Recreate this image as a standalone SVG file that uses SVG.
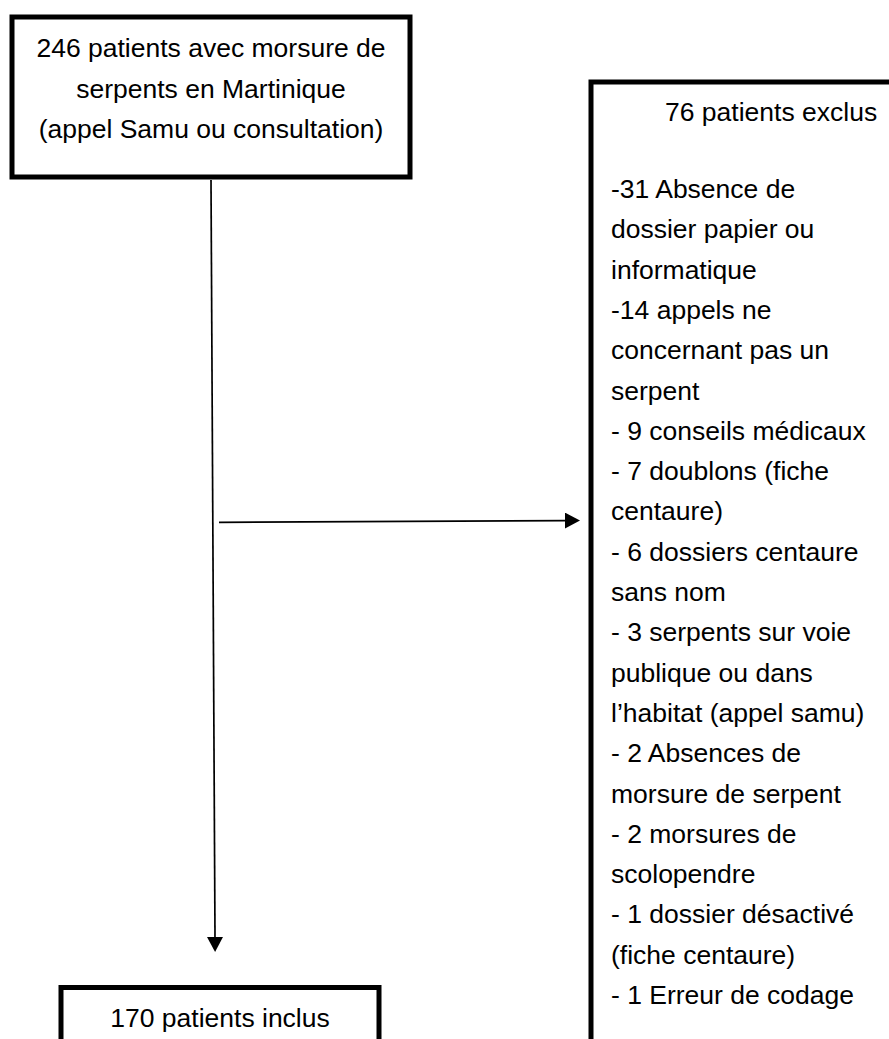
<svg xmlns="http://www.w3.org/2000/svg" width="889" height="1039" viewBox="0 0 889 1039">
  <style>
    .box { fill: #ffffff; stroke: #000000; stroke-width: 5; }
    .txt { font-family: "Liberation Sans", Arial, sans-serif; font-size: 26.5px; fill: #000000; }
    .mid { text-anchor: middle; }
    .conn { stroke: #000000; stroke-width: 1.7; fill: none; }
  </style>
  <defs>
    <marker id="arrow" markerUnits="userSpaceOnUse" markerWidth="16" markerHeight="16" refX="0" refY="8" orient="auto">
      <path d="M0,0 L15,8 L0,16 z" fill="#000000"/>
    </marker>
  </defs>
  <rect width="889" height="1039" fill="#ffffff"/>

  <g id="node-start">
    <rect class="box" x="12" y="17" width="398" height="160"/>
    <text class="txt mid" x="211" y="57">246 patients avec morsure de</text>
    <text class="txt mid" x="211" y="97.5">serpents en Martinique</text>
    <text class="txt mid" x="211" y="138">(appel Samu ou consultation)</text>
  </g>

  <g id="node-excluded">
    <rect class="box" x="591" y="82" width="420" height="1000"/>
    <text class="txt" x="665" y="121">76 patients exclus</text>
    <text class="txt" x="611" y="198">-31 Absence de</text>
    <text class="txt" x="611" y="238.3">dossier papier ou</text>
    <text class="txt" x="611" y="278.6">informatique</text>
    <text class="txt" x="611" y="318.9">-14 appels ne</text>
    <text class="txt" x="611" y="359.2">concernant pas un</text>
    <text class="txt" x="611" y="399.5">serpent</text>
    <text class="txt" x="611" y="439.8">- 9 conseils médicaux</text>
    <text class="txt" x="611" y="480.1">- 7 doublons (fiche</text>
    <text class="txt" x="611" y="520.4">centaure)</text>
    <text class="txt" x="611" y="560.7">- 6 dossiers centaure</text>
    <text class="txt" x="611" y="601">sans nom</text>
    <text class="txt" x="611" y="641.3">- 3 serpents sur voie</text>
    <text class="txt" x="611" y="681.6">publique ou dans</text>
    <text class="txt" x="611" y="721.9">l’habitat (appel samu)</text>
    <text class="txt" x="611" y="762.2">- 2 Absences de</text>
    <text class="txt" x="611" y="802.5">morsure de serpent</text>
    <text class="txt" x="611" y="842.8">- 2 morsures de</text>
    <text class="txt" x="611" y="883.1">scolopendre</text>
    <text class="txt" x="611" y="923.4">- 1 dossier désactivé</text>
    <text class="txt" x="611" y="963.7">(fiche centaure)</text>
    <text class="txt" x="611" y="1004">- 1 Erreur de codage</text>
  </g>

  <g id="node-included">
    <rect class="box" x="61" y="987.5" width="318" height="100"/>
    <text class="txt mid" x="220" y="1027">170 patients inclus</text>
  </g>

  <g id="connectors">
    <line class="conn" x1="211" y1="180" x2="215" y2="937" marker-end="url(#arrow)"/>
    <line class="conn" x1="219" y1="522.3" x2="565" y2="520.6" marker-end="url(#arrow)"/>
  </g>
</svg>
